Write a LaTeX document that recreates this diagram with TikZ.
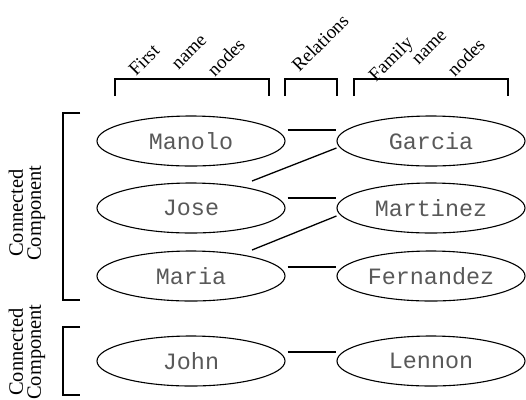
\documentclass[tikz,border=0pt]{standalone}
\usepackage{fontspec}
\setmainfont{Liberation Serif}
\newfontfamily\monofnt{Liberation Mono}
\usetikzlibrary{shapes.geometric,calc}
\tikzset{
  ent/.style={draw, ellipse, line width=1.1bp, minimum width=188bp, minimum height=50bp, inner sep=0pt,
     font=\monofnt\fontsize{23.5}{26}\selectfont, text=black!65},
  link/.style={line width=1.3bp},
  brk/.style={line width=1.3bp},
  toplab/.style={rotate=45, font=\fontsize{19}{21}\selectfont, inner sep=0pt},
  sidelab/.style={rotate=90, font=\fontsize{20.5}{18}\selectfont, align=center, inner sep=0pt}
}
\begin{document}
\begin{tikzpicture}[x=1bp,y=-1bp]
\useasboundingbox (0,0) rectangle (526,399);
% ellipses
\node[ent] (manolo) at (191,141) {Manolo};
\node[ent] (jose) at (191,208) {Jose};
\node[ent] (maria) at (191,276) {Maria};
\node[ent] (john) at (191,361) {John};
\node[ent] (garcia) at (431,141) {Garcia};
\node[ent] (martinez) at (431,208) {Martinez};
\node[ent] (fernandez) at (431,276) {Fernandez};
\node[ent] (lennon) at (431,361) {Lennon};
% connectors
\draw[link] ($(manolo.east)+(2,-11)$) -- ($(garcia.west)+(0,-11)$);
\draw[link] ($(garcia.west)+(0,7)$) -- ($(jose.center)+(61,-27)$);
\draw[link] ($(jose.east)+(2,-10)$) -- ($(martinez.west)+(0,-10)$);
\draw[link] ($(martinez.west)+(0,8)$) -- ($(maria.center)+(61,-26)$);
\draw[link] ($(maria.east)+(2,-9)$) -- ($(fernandez.west)+(0,-9)$);
\draw[link] ($(john.east)+(2,-9)$) -- ($(lennon.west)+(0,-9)$);
% top brackets
\coordinate (b1a) at (115,96); \coordinate (b1b) at (269,96);
\coordinate (b2a) at (285,96); \coordinate (b2b) at (337,96);
\coordinate (b3a) at (354,96); \coordinate (b3b) at (508,96);
\draw[brk] (b1a) -- ++(0,-17) -| (b1b);
\draw[brk] (b2a) -- ++(0,-17) -| (b2b);
\draw[brk] (b3a) -- ++(0,-17) -| (b3b);
% top labels
\node[toplab] (l1) at (144,60) {First};
\node[toplab] (l2) at (190,53) {name};
\node[toplab] (l3) at (226,57) {nodes};
\node[toplab] (l4) at (320,43) {Relations};
\node[toplab] (l5) at (392,60) {Family};
\node[toplab] (l6) at (430,48) {name};
\node[toplab] (l7) at (466,57) {nodes};
% side brackets
\coordinate (s1a) at (80,113); \coordinate (s1b) at (80,300);
\coordinate (s2a) at (80,327); \coordinate (s2b) at (80,395);
\draw[brk] (s1a) -- (63,113) -- (63,300) -- (s1b);
\draw[brk] (s2a) -- (63,327) -- (63,395) -- (s2b);
% side labels
\node[sidelab] (c1) at (27,213) {Connected\\Component};
\node[sidelab] (c2) at (27,352) {Connected\\Component};
\end{tikzpicture}
\end{document}
